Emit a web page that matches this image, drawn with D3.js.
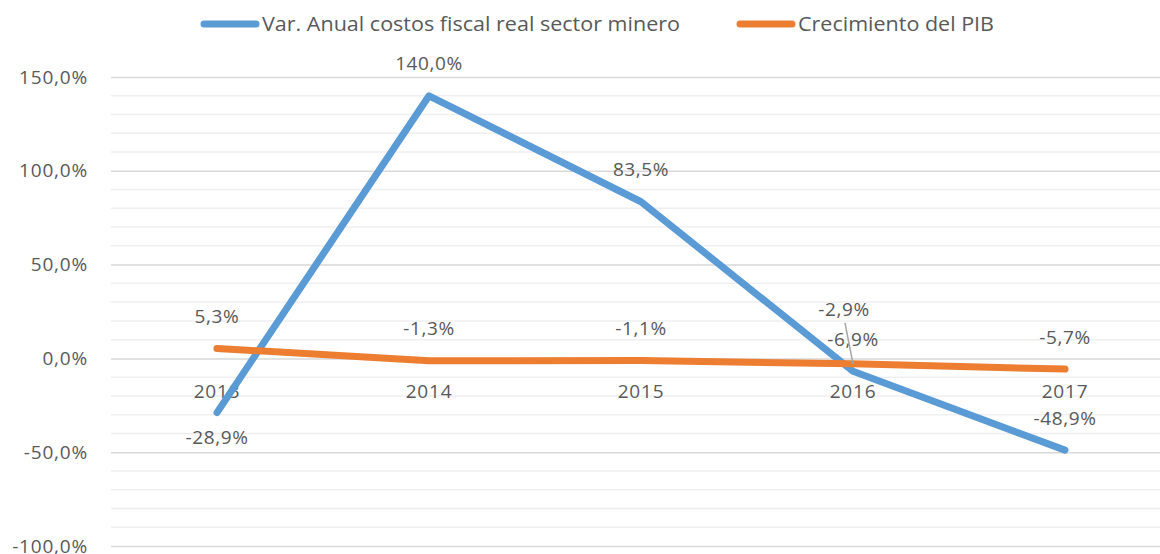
<!DOCTYPE html>
<html lang="es">
<head>
<meta charset="utf-8">
<title>Costos fiscal sector minero vs PIB</title>
<script src="https://cdn.jsdelivr.net/npm/d3@7"></script>
<style>
  html, body { margin: 0; padding: 0; background: #fff; }
  svg text { font-family: "Open Sans", "Noto Sans", sans-serif; fill: #595959; }
</style>
</head>
<body>
<svg id="chart" width="1160" height="554"></svg>
<script>
// data
const years = ["2013", "2014", "2015", "2016", "2017"];
const costosFiscal = [-28.9, 140.0, 83.5, -6.9, -48.9];
const pibCrecimiento = [5.3, -1.3, -1.1, -2.9, -5.7];
const seriesNames = ["Var. Anual costos fiscal real sector minero", "Crecimiento del PIB"];
const yTicks = [-100, -50, 0, 50, 100, 150];

const w = 1160, h = 554;
const svg = d3.select("#chart");

// spanish style: comma decimals, plain hyphen minus
const locale = d3.formatLocale({decimal: ",", thousands: ".", grouping: [3], currency: ["", "€"], minus: "-"});
const fmt = v => locale.format(".1f")(v) + "%";

let x = d3.scalePoint()
    .domain(years)
    .range([111, 1171])
    .padding(0.5);

let y = d3.scaleLinear()
    .domain([-100, 150])
    .range([546, 77]);

// minor grid every 10%
svg.append("g")
    .selectAll("line")
    .data(d3.range(-100, 151, 10).filter(v => v % 50 !== 0))
    .join("line")
    .attr("x1", 111).attr("x2", w)
    .attr("y1", d => y(d)).attr("y2", d => y(d))
    .attr("stroke", "#efefef").attr("stroke-width", 1.5);

// major grid + labels via axis
let yAxis = d3.axisLeft(y)
    .tickValues(yTicks)
    .tickSize(-(w - 111))
    .tickPadding(23)
    .tickFormat(fmt);

svg.append("g")
    .attr("transform", "translate(111,0)")
    .call(yAxis)
    .call(g => g.select(".domain").remove())
    .call(g => g.selectAll(".tick line").attr("stroke", "#d9d9d9").attr("stroke-width", 1.5))
    .call(g => g.selectAll(".tick text").attr("font-size", 19).attr("fill", "#595959")
        .attr("letter-spacing", 0.8)
        .style("font-family", "'Open Sans', sans-serif"));

// category labels under the zero line
svg.append("g")
    .selectAll("text")
    .data(years)
    .join("text")
    .attr("x", d => x(d))
    .attr("y", y(0) + 33)
    .attr("dy", "0.35em")
    .attr("text-anchor", "middle")
    .attr("font-size", 19)
    .attr("letter-spacing", 0.8)
    .text(d => d);

const line = d3.line()
    .x((d, i) => x(years[i]))
    .y(d => y(d));

const colors = ["#5B9BD5", "#ED7D31"];
const allSeries = [costosFiscal, pibCrecimiento];

allSeries.forEach((s, k) => {
    svg.append("path")
        .datum(s)
        .attr("d", line)
        .attr("fill", "none")
        .attr("stroke", colors[k])
        .attr("stroke-width", 7)
        .attr("stroke-linecap", "round")
        .attr("stroke-linejoin", "round");
});

// data labels: blue 2013 sits below, the rest above
const labelPos = [
    ["below", "above", "above", "above", "above"],
    ["above", "above", "above", "moved", "above"]
];

allSeries.forEach((s, k) => {
    s.forEach((v, i) => {
        let px = x(years[i]);
        let py = y(v);
        let ly;
        if (labelPos[k][i] === "below") ly = py + 25;
        else if (labelPos[k][i] === "moved") {
            ly = py - 54;
            px = px - 9;
            svg.append("line")
                .attr("x1", px + 1).attr("y1", ly + 13)
                .attr("x2", x(years[i])).attr("y2", y(v))
                .attr("stroke", "#a6a6a6").attr("stroke-width", 1.5);
        }
        else ly = py - 32;
        svg.append("text")
            .attr("x", px)
            .attr("y", ly)
            .attr("dy", "0.35em")
            .attr("text-anchor", "middle")
            .attr("font-size", 19)
            .attr("letter-spacing", 0.6)
            .text(fmt(v));
    });
});

// legend
const legendX = [200, 736];
const legend = svg.append("g");
seriesNames.forEach((name, k) => {
    legend.append("line")
        .attr("x1", legendX[k] + 4).attr("x2", legendX[k] + 56)
        .attr("y1", 24).attr("y2", 24)
        .attr("stroke", colors[k]).attr("stroke-width", 7)
        .attr("stroke-linecap", "round");
    legend.append("text")
        .attr("x", legendX[k] + 62)
        .attr("y", 24)
        .attr("dy", "0.35em")
        .attr("font-size", 20)
        .attr("textLength", k === 0 ? 418 : 196)
        .attr("lengthAdjust", "spacingAndGlyphs")
        .text(name);
});
</script>
</body>
</html>
